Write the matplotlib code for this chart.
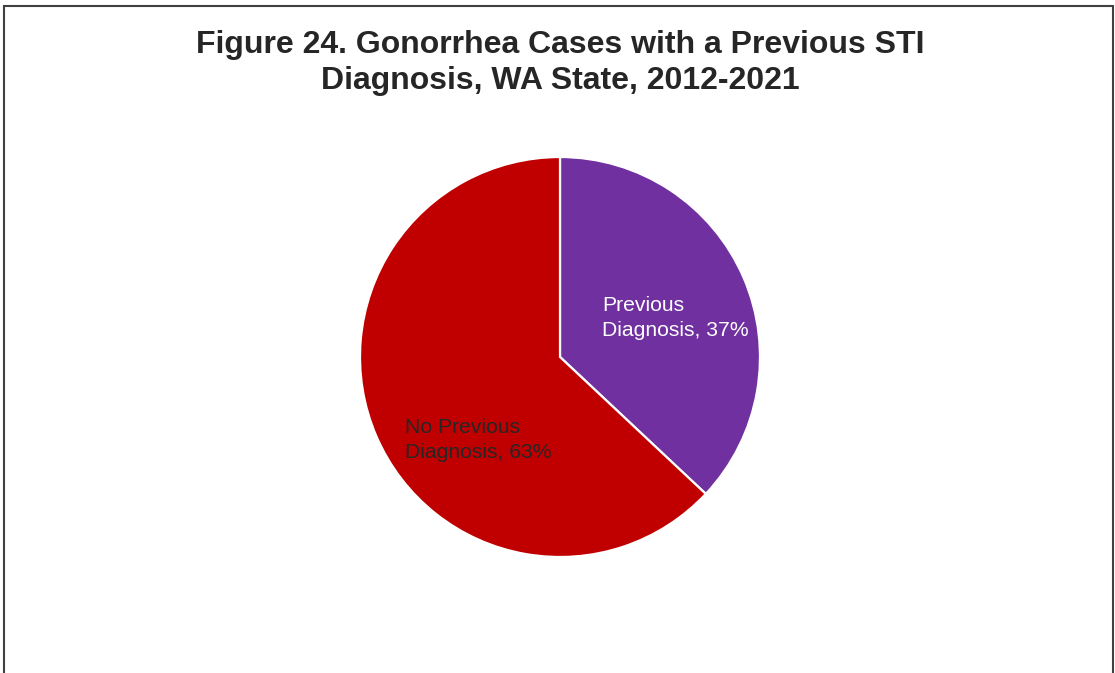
import matplotlib.pyplot as plt
from matplotlib.patches import Rectangle

plt.rcParams['font.family'] = ['Liberation Sans', 'DejaVu Sans']

# Data
labels = ['Previous\nDiagnosis, 37%', 'No Previous\nDiagnosis, 63%']
values = [37, 63]
colors = ['#7030A0', '#C00000']
text_colors = ['white', '#262626']
# label anchor points (data coords, left-aligned)
label_pos = [(0.21, 0.195), (-0.775, -0.415)]

W, H = 1115, 673
fig = plt.figure(figsize=(W / 100, H / 100), dpi=100)

# pie axes: centre (560, 357), radius 200 px
cx, cy, r = 560, 357, 200
ax = fig.add_axes([(cx - r) / W, (H - cy - r) / H, 2 * r / W, 2 * r / H])
ax.pie(values, colors=colors, startangle=90, counterclock=False,
       wedgeprops=dict(edgecolor='white', linewidth=1.6))
ax.set_xlim(-1, 1)
ax.set_ylim(-1, 1)
ax.set_aspect('equal')
ax.axis('off')

for lab, (x, y), tc in zip(labels, label_pos, text_colors):
    ax.text(x, y, lab, color=tc, fontsize=15.2, ha='left', va='center',
            linespacing=1.38)

fig.text(cx / W, 1 - 63 / H,
         'Figure 24. Gonorrhea Cases with a Previous STI\nDiagnosis, WA State, 2012-2021',
         ha='center', va='center', fontsize=23, fontweight='bold',
         color='#262626', linespacing=1.3)

# outer border (bottom edge is cut off in the original)
fig.patches.append(Rectangle((4 / W, -0.1), (1113 - 4) / W, 1.1 - 6 / H,
                             transform=fig.transFigure, fill=False,
                             edgecolor='#404040', linewidth=1.5))

fig.savefig('out.png', dpi=100)
